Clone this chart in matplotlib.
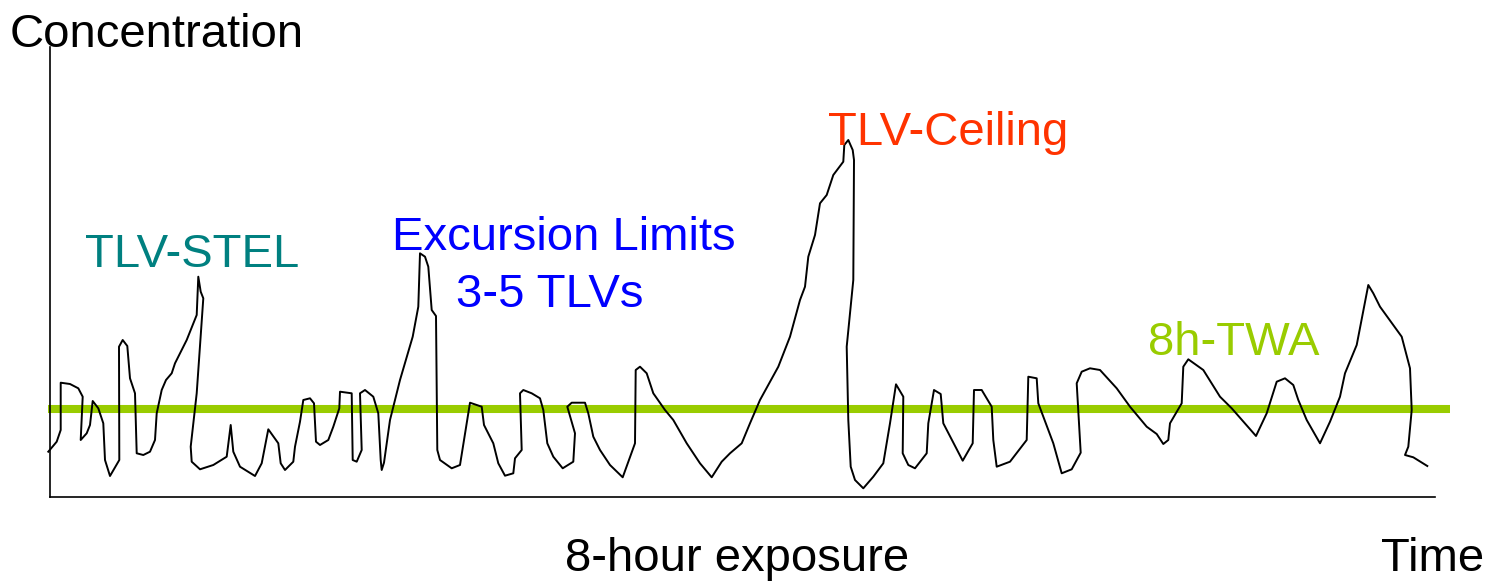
import matplotlib
matplotlib.use("Agg")
import matplotlib.pyplot as plt

plt.rcParams['font.family'] = ['Liberation Sans', 'DejaVu Sans']

# Sketched concentration trace over the shift: (time, concentration) in arbitrary units
trace = [
    (-1.7, 45.0), (6.7, 55.0), (10.7, 66.7), (10.7, 114.0), (20, 112.7), (28.3, 108.4),
    (32.7, 100), (30.7, 56.7), (36.7, 63.4), (40, 71.7), (42.7, 95.7), (48.3, 88.4),
    (53.3, 73.4), (55, 36.7), (60, 20.7), (69.3, 36.7), (69, 150), (72.7, 156.7),
    (77.3, 150.7), (80, 118.4), (85, 103.4), (86.7, 43.4), (93.3, 41.7), (100, 45),
    (105, 56.7), (106.7, 83.4), (111.7, 106.7), (116, 116.7), (121.7, 123.4), (125, 133.4),
    (136.7, 156.7), (146.7, 181.7), (148.3, 220), (150.7, 205), (153.3, 198.4),
    (146.7, 103.4), (140.7, 50), (141.7, 35), (150, 27.4), (163.3, 31.7), (176.7, 40),
    (180.7, 71.7), (183.3, 45), (190, 30), (205, 20.7), (211.7, 33.4), (218.3, 67.4),
    (228.3, 53.4), (230.7, 33.4), (235, 26.7), (243.3, 35), (245, 50), (250, 75),
    (253.3, 96.7), (260, 98.4), (264, 93.4), (266, 55), (270, 51.7), (278.3, 56.7),
    (283.3, 70), (289.3, 88.4), (290, 105), (301.7, 103.4), (302.7, 36.7), (306.7, 35),
    (311.7, 46.7), (310, 103.4), (315, 106.7), (323.3, 100), (328.3, 83.4), (330.7, 36.7),
    (331.7, 26.7), (334, 34), (340, 76.7), (350, 116.7), (362.7, 160), (368.3, 190),
    (370, 243.4), (375, 240), (378.3, 230), (381.7, 186.7), (386, 180.7), (387.3, 46.7),
    (390, 36.7), (401.7, 28.4), (410, 31.7), (414, 56.7), (420, 94), (431.7, 90),
    (434, 71.7), (443.3, 53.4), (448.3, 33.4), (455, 21), (463.3, 23.4), (465, 38.4),
    (471.7, 46.7), (470, 103.4), (473.3, 106.7), (481.7, 103.4), (490, 98.4), (493.3, 86.7),
    (497.3, 53.4), (503.3, 40), (512.7, 28.4), (523.3, 35), (525, 63.4), (517.3, 90),
    (521.7, 94), (535, 94), (538.3, 83.4), (543.3, 60), (550, 46.7), (560, 31.7),
    (572.7, 19.4), (585, 53.4), (585.7, 126.7), (590, 130), (596.7, 123.4), (603.3, 103.4),
    (615, 86.7), (623.3, 76.7), (636.7, 53.4), (650, 33.4), (661.7, 19.4), (671.7, 35),
    (680, 43.4), (691.7, 53.4), (700, 73.4), (710, 96.7), (728.3, 130), (740, 160),
    (750, 196.7), (755, 210), (758.3, 240), (765, 261.7), (770, 293.4), (776.7, 301.7),
    (783.3, 321.7), (793.3, 335), (794.3, 351.7), (798.3, 356.7), (802.7, 346.7),
    (804, 336.7), (803.3, 216.7), (796.7, 150), (798.3, 76.7), (800.7, 30), (805, 16.7),
    (813.3, 8.4), (823.3, 20), (833.3, 33.4), (840, 73.4), (846, 112.4), (853.3, 100),
    (852.7, 43.4), (858.3, 31.7), (865, 28.4), (876.7, 43.4), (878.3, 73.4), (884, 106.7),
    (890.7, 102.7), (893.3, 73.4), (912.7, 36), (922.7, 53.4), (924, 106.7), (931.7, 106.7),
    (941.7, 90), (943.3, 56.7), (946.7, 30), (960, 35), (976.7, 56.7), (978.3, 120),
    (986.7, 118.4), (988.3, 93.4), (1003.3, 53.4), (1011.7, 23.4), (1021.7, 27.4),
    (1030.7, 44), (1026.7, 113.4), (1031.7, 125), (1040, 128.4), (1050, 126.7),
    (1066.7, 108.4), (1080, 90), (1096.7, 70), (1106.7, 62.7), (1113.3, 52.7),
    (1118.3, 56.7), (1120, 73.4), (1131.7, 93.4), (1133.3, 130), (1138.3, 137.4),
    (1153.3, 126.7), (1170, 100), (1181.7, 88.4), (1206, 60.7), (1216.7, 83.4),
    (1226.7, 115), (1235, 118.4), (1243.3, 111.7), (1248.3, 96.7), (1256.7, 76.7),
    (1270, 53.4), (1280, 75), (1290, 100), (1295, 123.4), (1306.7, 151.7), (1318.3, 211.7),
    (1323.3, 203.4), (1330, 190), (1351.7, 160), (1360, 128.4), (1361.7, 86.7),
    (1358.3, 50), (1355, 41.7), (1363.3, 39.4), (1377.3, 30.7),
]
time = [p[0] for p in trace]
concentration = [p[1] for p in trace]

# 8-hour time-weighted average level and its extent along the time axis
twa_level = 87.4
twa_span = [-2, 1400]

# Threshold annotations: (text, colour, left edge in time units, baseline in concentration units)
labels = [
    ("TLV-STEL", "#008080", 35, 230),
    ("Excursion Limits", "#0000FF", 341.7, 246.7),
    ("3-5 TLVs", "#0000FF", 406, 190),
    ("TLV-Ceiling", "#FF3300", 778, 351.7),
    ("8h-TWA", "#99CC00", 1098, 141.7),
]

W, H = 1488, 582
fig = plt.figure(figsize=(W / 100, H / 100), dpi=100)

ax_left, ax_right = 50, 1435
ax_top, ax_bottom = 47, 496.7
ax = fig.add_axes([ax_left / W, (H - ax_bottom) / H,
                   (ax_right - ax_left) / W, (ax_bottom - ax_top) / H])
ax.set_xlim(0, ax_right - ax_left)
ax.set_ylim(0, ax_bottom - ax_top)

for side in ("top", "right"):
    ax.spines[side].set_visible(False)
for side in ("left", "bottom"):
    ax.spines[side].set_linewidth(1.2)
    ax.spines[side].set_color("black")
ax.set_xticks([])
ax.set_yticks([])

ax.plot(twa_span, [twa_level, twa_level], color="#99CC00", lw=5.8,
        solid_capstyle="butt", clip_on=False, zorder=1)
ax.plot(time, concentration, color="black", lw=1.4, clip_on=False, zorder=2,
        solid_joinstyle="round")

fs = 34
for text, color, x, y in labels:
    ax.text(x, y, text, color=color, fontsize=fs, ha="left", va="baseline")

fig.text(10 / W, 1 - 46.7 / H, "Concentration", fontsize=fs, ha="left", va="baseline")
fig.text(565 / W, 1 - 571 / H, "8-hour exposure", fontsize=fs, ha="left", va="baseline")
fig.text(1381 / W, 1 - 571 / H, "Time", fontsize=fs, ha="left", va="baseline")

fig.savefig("out.png", dpi=100, facecolor="white")
